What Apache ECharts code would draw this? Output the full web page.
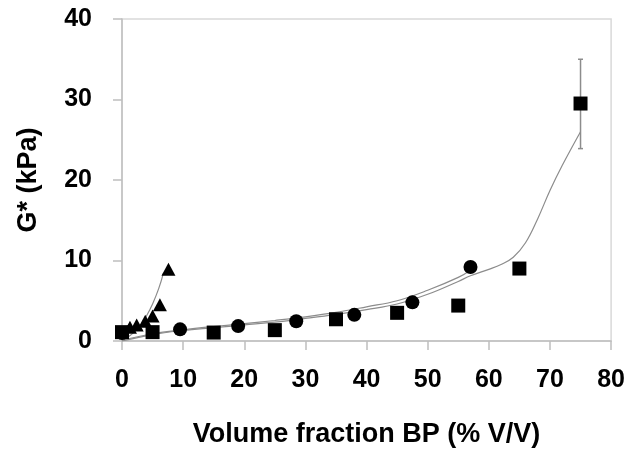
<!DOCTYPE html>
<html><head><meta charset="utf-8">
<script src="https://cdn.jsdelivr.net/npm/echarts@6/dist/echarts.min.js"></script>
<style>html,body{margin:0;padding:0;background:#fff}#c{width:628px;height:453px}</style>
</head><body><div id="c"></div>
<script>
// Measured points
const squareX = [0, 5, 15, 25, 35, 45, 55, 65, 75];
const squareY = [1.1, 1.1, 1.05, 1.35, 2.7, 3.5, 4.4, 9.0, 29.5];
const circleX = [0, 9.5, 19, 28.5, 38, 47.5, 57];
const circleY = [1.0, 1.45, 1.85, 2.45, 3.25, 4.8, 9.2];
const triX = [0, 1.3, 2.4, 3.8, 5.0, 6.2, 7.6];
const triY = [1.1, 1.7, 2.0, 2.45, 3.1, 4.5, 8.9];
// Error bar on last square
const errX = [75];
const errLow = [23.9];
const errHigh = [35.0];
// Fitted curves
const fitCircleX = [0, 5, 10, 15, 20, 25, 30, 35, 40, 45, 50, 55, 57];
const fitCircleY = [0.1, 0.9, 1.4, 1.8, 2.15, 2.55, 3.0, 3.55, 4.25, 5.0, 6.3, 7.9, 8.8];
const fitSquareX = [0, 5, 10, 15, 20, 25, 30, 35, 40, 45, 50, 55, 57, 60, 62, 64, 66, 68, 70, 72, 75];
const fitSquareY = [0, 0.8, 1.3, 1.65, 2.0, 2.35, 2.8, 3.3, 3.9, 4.6, 5.8, 7.4, 8.1, 8.9, 9.5, 10.4, 12.2, 15.2, 18.7, 21.8, 26.0];
const fitTriX = [0, 1, 2, 3, 4, 5, 6, 6.8];
const fitTriY = [0, 0.5, 1.1, 1.9, 3.1, 4.6, 6.5, 8.5];

const FONT = '"Liberation Sans", Arial, sans-serif';
const zip = (a, b) => a.map((v, i) => [v, b[i]]);

const chart = echarts.init(document.getElementById('c'), null, {renderer: 'canvas'});
const lineStyle = {color: '#8c8c8c', width: 1.2};
const mark = {color: '#000', opacity: 1};
chart.setOption({
  animation: false,
  backgroundColor: '#fff',
  grid: {left: 122, right: 15, top: 19, bottom: 107, show: true, borderColor: '#d9d9d9', borderWidth: 1.5},
  xAxis: {
    type: 'value', min: 0, max: 80, interval: 10,
    name: 'Volume fraction BP (% V/V)', nameLocation: 'middle', nameGap: 80,
    nameTextStyle: {fontFamily: FONT, fontWeight: 'bold', fontSize: 27, color: '#000'},
    axisLine: {lineStyle: {color: '#bfbfbf', width: 1.5}},
    axisTick: {show: true, inside: false, length: 9, lineStyle: {color: '#bfbfbf', width: 1.5}},
    axisLabel: {margin: 27, fontFamily: FONT, fontWeight: 'bold', fontSize: 25, color: '#000'},
    splitLine: {show: false}
  },
  yAxis: {
    type: 'value', min: 0, max: 40, interval: 10,
    name: 'G* (kPa)', nameLocation: 'middle', nameGap: 80, nameRotate: 90,
    nameTextStyle: {fontFamily: FONT, fontWeight: 'bold', fontSize: 27, color: '#000'},
    axisLine: {show: true, lineStyle: {color: '#bfbfbf', width: 1.5}},
    axisTick: {show: true, inside: false, length: 9, lineStyle: {color: '#bfbfbf', width: 1.5}},
    axisLabel: {margin: 30, fontFamily: FONT, fontWeight: 'bold', fontSize: 25, color: '#000'},
    splitLine: {show: false}
  },
  series: [
    {type: 'line', data: zip(fitTriX, fitTriY), smooth: 0.4, symbol: 'none', lineStyle: lineStyle, z: 1},
    {type: 'line', data: zip(fitCircleX, fitCircleY), smooth: 0.4, symbol: 'none', lineStyle: lineStyle, z: 1},
    {type: 'line', data: zip(fitSquareX, fitSquareY), smooth: 0.4, symbol: 'none', lineStyle: lineStyle, z: 1},
    {
      type: 'custom', z: 2,
      data: errX.map((x, i) => [x, errLow[i], errHigh[i]]),
      renderItem: function (params, api) {
        const x = api.value(0);
        const lo = api.coord([x, api.value(1)]);
        const hi = api.coord([x, api.value(2)]);
        const st = {stroke: '#8c8c8c', lineWidth: 1.5};
        return {type: 'group', children: [
          {type: 'line', shape: {x1: lo[0], y1: lo[1], x2: hi[0], y2: hi[1]}, style: st},
          {type: 'line', shape: {x1: hi[0] - 2.5, y1: hi[1], x2: hi[0] + 2.5, y2: hi[1]}, style: st},
          {type: 'line', shape: {x1: lo[0] - 2.5, y1: lo[1], x2: lo[0] + 2.5, y2: lo[1]}, style: st}
        ]};
      }
    },
    {type: 'scatter', data: zip(circleX, circleY), symbol: 'circle', symbolSize: 14, itemStyle: mark, z: 3},
    {type: 'scatter', data: zip(triX, triY), symbol: 'triangle', symbolSize: [14, 13], itemStyle: mark, z: 3},
    {type: 'scatter', data: zip(squareX, squareY), symbol: 'rect', symbolSize: 14, itemStyle: mark, z: 4}
  ]
});
</script>
</body></html>
